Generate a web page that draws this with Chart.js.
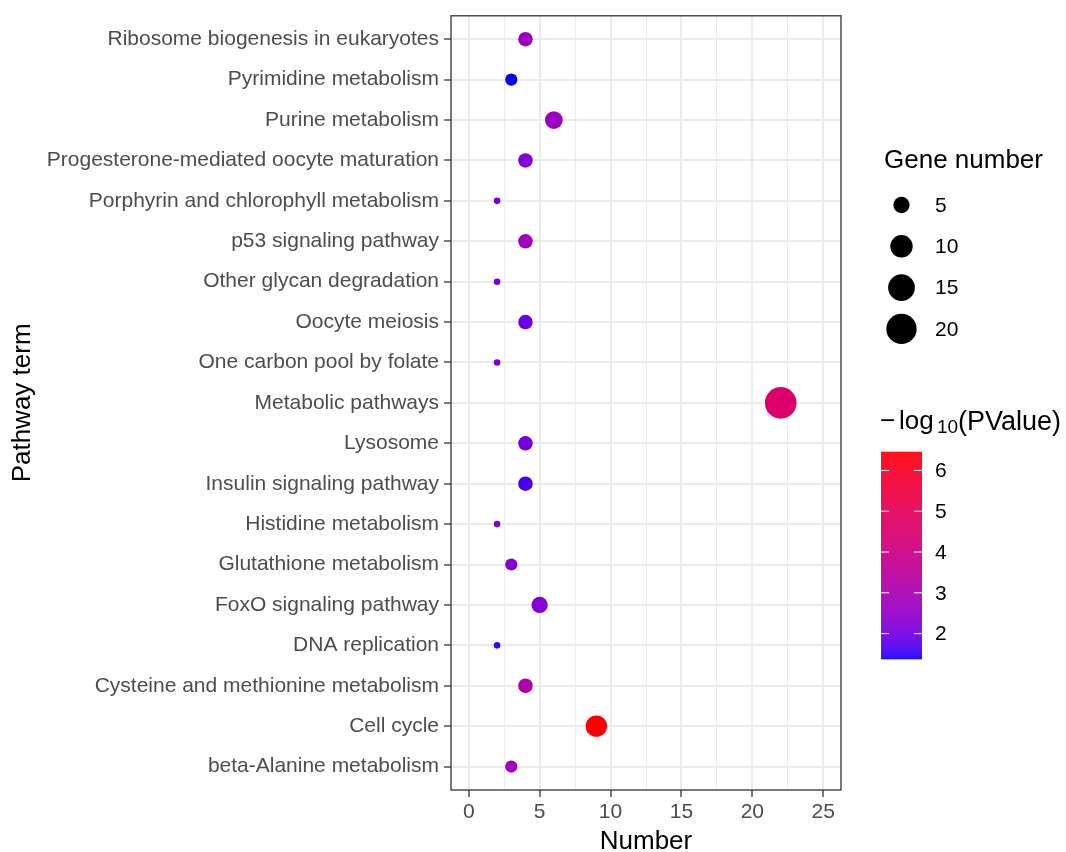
<!DOCTYPE html>
<html>
<head>
<meta charset="utf-8">
<script src="https://cdn.jsdelivr.net/npm/chart.js@4.4.1/dist/chart.umd.min.js"></script>
<style>
  html, body { margin: 0; padding: 0; background: #fff; }
  #wrap { width: 1066px; height: 852px; }
</style>
</head>
<body>
<div id="wrap"><canvas id="chart" width="1066" height="852"></canvas></div>
<script>
// pathway terms, top to bottom
const categories = [
    "Ribosome biogenesis in eukaryotes",
    "Pyrimidine metabolism",
    "Purine metabolism",
    "Progesterone-mediated oocyte maturation",
    "Porphyrin and chlorophyll metabolism",
    "p53 signaling pathway",
    "Other glycan degradation",
    "Oocyte meiosis",
    "One carbon pool by folate",
    "Metabolic pathways",
    "Lysosome",
    "Insulin signaling pathway",
    "Histidine metabolism",
    "Glutathione metabolism",
    "FoxO signaling pathway",
    "DNA replication",
    "Cysteine and methionine metabolism",
    "Cell cycle",
    "beta-Alanine metabolism"
];
const geneNumber = [4, 3, 6, 4, 2, 4, 2, 4, 2, 22, 4, 4, 2, 3, 5, 2, 4, 9, 3];
const negLog10P = [2.7, 1.37, 2.7, 2.25, 1.95, 2.75, 2.0, 1.95, 2.3, 4.6, 2.0, 1.6, 2.2, 2.3, 2.25, 1.55, 3.15, 6.46, 2.75];

const xMajorTicks = [0, 5, 10, 15, 20, 25];
const xMinorTicks = [2.5, 7.5, 12.5, 17.5, 22.5];
const sizeBreaks = [5, 10, 15, 20];
const colorBreaks = [2, 3, 4, 5, 6];

const FONT = "'Liberation Sans', Arial, sans-serif";
Chart.defaults.font.family = FONT;

// --- size scale (area) ---
const nMin = Math.min(...geneNumber), nMax = Math.max(...geneNumber);
function sizeFor(n) {
    return 3.3 + 12.5 * Math.sqrt((n - nMin) / (nMax - nMin));
}

// --- colour scale, blue -> red interpolated in Lab ---
function hexToRgb(h) { return [1, 3, 5].map(i => parseInt(h.substr(i, 2), 16) / 255); }
function rgbToLab(rgb) {
    const lin = rgb.map(c => c <= 0.04045 ? c / 12.92 : Math.pow((c + 0.055) / 1.055, 2.4));
    const X = (0.4124564 * lin[0] + 0.3575761 * lin[1] + 0.1804375 * lin[2]) / 0.95047;
    const Y = (0.2126729 * lin[0] + 0.7151522 * lin[1] + 0.0721750 * lin[2]);
    const Z = (0.0193339 * lin[0] + 0.1191920 * lin[1] + 0.9503041 * lin[2]) / 1.08883;
    const f = t => t > 0.008856 ? Math.cbrt(t) : 7.787 * t + 16 / 116;
    const fx = f(X), fy = f(Y), fz = f(Z);
    return [116 * fy - 16, 500 * (fx - fy), 200 * (fy - fz)];
}
function labToRgb(lab) {
    const fy = (lab[0] + 16) / 116, fx = fy + lab[1] / 500, fz = fy - lab[2] / 200;
    const finv = t => t * t * t > 0.008856 ? t * t * t : (t - 16 / 116) / 7.787;
    const X = finv(fx) * 0.95047, Y = finv(fy), Z = finv(fz) * 1.08883;
    const r = 3.2404542 * X - 1.5371385 * Y - 0.4985314 * Z;
    const g = -0.9692660 * X + 1.8760108 * Y + 0.0415560 * Z;
    const b = 0.0556434 * X - 0.2040259 * Y + 1.0572252 * Z;
    return [r, g, b].map(c => {
        c = Math.min(1, Math.max(0, c));
        c = c <= 0.0031308 ? 12.92 * c : 1.055 * Math.pow(c, 1 / 2.4) - 0.055;
        return Math.round(c * 255);
    });
}
const labLow = rgbToLab(hexToRgb("#0000FF"));
const labHigh = rgbToLab(hexToRgb("#FF0000"));
const pMin = Math.min(...negLog10P), pMax = Math.max(...negLog10P);
function colorFor(v) {
    const t = Math.min(1, Math.max(0, (v - pMin) / (pMax - pMin)));
    const lab = labLow.map((c, i) => c + (labHigh[i] - c) * t);
    const rgb = labToRgb(lab);
    return `rgb(${rgb[0]},${rgb[1]},${rgb[2]})`;
}

// --- panel border + legends ---
const decorations = {
    id: "decorations",
    afterDraw(chart) {
        const ctx = chart.ctx;
        const a = chart.chartArea;
        ctx.save();
        ctx.strokeStyle = "#333333";
        ctx.lineWidth = 1.3;
        ctx.strokeRect(a.left, a.top, a.right - a.left, a.bottom - a.top);

        // size legend
        ctx.fillStyle = "#000";
        ctx.textAlign = "left";
        ctx.textBaseline = "alphabetic";
        ctx.font = `26px ${FONT}`;
        ctx.fillText("Gene number", 884, 168);
        const keyX = 901.5, keyY0 = 205, keyStep = 41.3;
        sizeBreaks.forEach((n, i) => {
            const y = keyY0 + i * keyStep;
            ctx.beginPath();
            ctx.arc(keyX, y, sizeFor(n), 0, Math.PI * 2);
            ctx.fill();
            ctx.font = `21px ${FONT}`;
            ctx.textBaseline = "middle";
            ctx.fillText(String(n), 935, y + 1);
        });

        // colour legend title: -log10(PValue)
        ctx.textBaseline = "alphabetic";
        ctx.font = `26px ${FONT}`;
        ctx.fillText("\u2212", 880, 429);
        ctx.fillText("log", 899, 429);
        ctx.font = `19px ${FONT}`;
        ctx.fillText("10", 937, 433);
        ctx.font = `27px ${FONT}`;
        ctx.fillText("(PValue)", 958, 430);

        // colour bar
        const barL = 881, barR = 922, barT = 451.7, barB = 659.3;
        const pxPerUnit = (barB - barT) / (pMax - pMin);
        for (let y = barT; y < barB; y += 1) {
            const v = pMax - (y + 0.5 - barT) / pxPerUnit;
            ctx.fillStyle = colorFor(v);
            ctx.fillRect(barL, y, barR - barL, Math.min(1.2, barB - y));
        }
        ctx.strokeStyle = "#ffffff";
        ctx.lineWidth = 1;
        ctx.fillStyle = "#000";
        ctx.font = `21px ${FONT}`;
        ctx.textBaseline = "middle";
        colorBreaks.forEach(v => {
            const y = barB - (v - pMin) * pxPerUnit;
            ctx.beginPath();
            ctx.moveTo(barL, y); ctx.lineTo(barL + 8, y);
            ctx.moveTo(barR - 8, y); ctx.lineTo(barR, y);
            ctx.stroke();
            ctx.fillText(String(v), 935, y + 1);
        });
        ctx.restore();
    }
};

const points = categories.map((c, i) => ({ x: geneNumber[i], y: i }));

new Chart(document.getElementById("chart"), {
    type: "scatter",
    data: {
        datasets: [{
            data: points,
            pointRadius: ctx => sizeFor(geneNumber[ctx.dataIndex]),
            pointHoverRadius: ctx => sizeFor(geneNumber[ctx.dataIndex]),
            pointBackgroundColor: ctx => colorFor(negLog10P[ctx.dataIndex]),
            pointBorderWidth: 0,
            pointBorderColor: "rgba(0,0,0,0)"
        }]
    },
    options: {
        responsive: false,
        animation: false,
        devicePixelRatio: 1,
        layout: { padding: { top: 15, right: 225, bottom: 0, left: 0 } },
        plugins: { legend: { display: false }, tooltip: { enabled: false } },
        scales: {
            x: {
                type: "linear",
                min: -1.25,
                max: 26.25,
                afterBuildTicks: axis => {
                    axis.ticks = [...xMajorTicks, ...xMinorTicks].sort((a, b) => a - b).map(v => ({ value: v }));
                },
                afterFit: axis => { axis.height = 62; axis.paddingLeft = 0; axis.paddingRight = 0; },
                ticks: {
                    autoSkip: false,
                    maxRotation: 0,
                    padding: 3,
                    color: "#4D4D4D",
                    font: { size: 21 },
                    callback: v => xMajorTicks.includes(v) ? String(v) : ""
                },
                grid: {
                    color: "#EBEBEB",
                    lineWidth: ctx => ctx.tick && xMajorTicks.includes(ctx.tick.value) ? 2 : 1,
                    tickColor: ctx => ctx.tick && xMajorTicks.includes(ctx.tick.value) ? "#333333" : "rgba(0,0,0,0)",
                    tickLength: 7,
                    tickWidth: 1.3
                },
                border: { display: false },
                title: {
                    display: true,
                    text: "Number",
                    color: "#000",
                    font: { size: 26, lineHeight: 0.77 },
                    padding: { top: 0, bottom: 0 }
                }
            },
            y: {
                type: "linear",
                reverse: true,
                min: -0.58,
                max: categories.length - 1 + 0.58,
                afterBuildTicks: axis => {
                    axis.ticks = categories.map((c, i) => ({ value: i }));
                },
                afterFit: axis => { axis.width = 451; axis.paddingTop = 0; axis.paddingBottom = 0; },
                ticks: {
                    autoSkip: false,
                    padding: 5,
                    color: "#4D4D4D",
                    font: { size: 21 },
                    callback: v => categories[v]
                },
                grid: {
                    color: "#EBEBEB",
                    lineWidth: 2,
                    tickColor: "#333333",
                    tickLength: 7,
                    tickWidth: 1.3
                },
                border: { display: false },
                title: {
                    display: true,
                    text: "Pathway term",
                    color: "#000",
                    font: { size: 26, lineHeight: 1.2 },
                    padding: { top: 7, bottom: 0 }
                }
            }
        }
    },
    plugins: [decorations]
});
</script>
</body>
</html>
